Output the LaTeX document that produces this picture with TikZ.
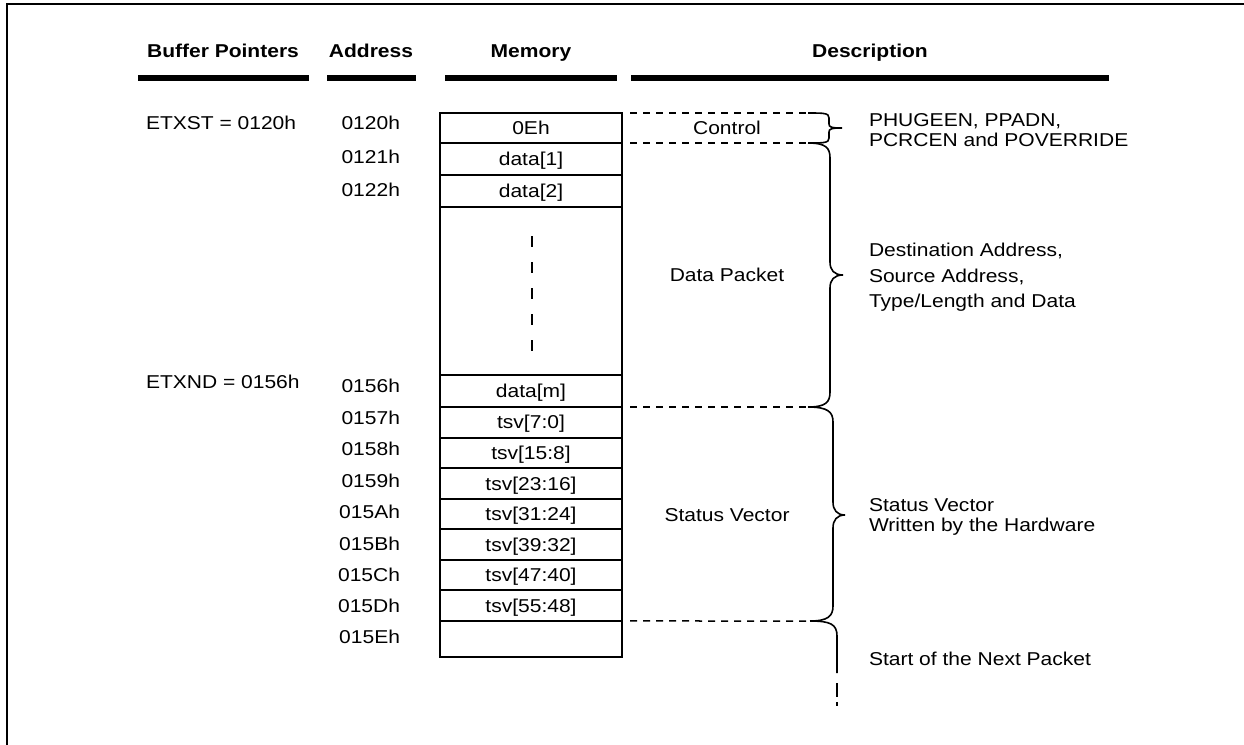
\documentclass[tikz,border=0pt]{standalone}
\usepackage{fontspec}
\setmainfont{Liberation Sans}[FakeStretch=1.13]
\begin{document}
\begin{tikzpicture}[x=1pt,y=-1pt,
  txt/.style={inner sep=0pt, outer sep=0pt, font=\fontsize{18.6}{20}\selectfont, text height=13.3pt, text depth=0pt},
  hdr/.style={txt, font=\fontsize{18.6}{20}\selectfont\bfseries},
  cell/.style={draw, line width=2pt, minimum width=182pt, inner sep=0pt, outer sep=0pt,
               font=\fontsize{18.6}{20}\selectfont, text height=13.3pt, text depth=0pt},
  bar/.style={line width=6pt},
  dline/.style={line width=1.5pt, dash pattern=on 7pt off 6pt},
  brc/.style={line width=1.6pt},
  addr/.style={txt, anchor=east},
  desc/.style={txt, anchor=west}
]
\useasboundingbox (0,0) rectangle (1244,744);
% frame
\draw[line width=2.5pt] (7,760) -- (7,4) -- (1260,4);

% headers
\node[hdr] (hbp) at (223,51) {Buffer Pointers};
\node[hdr] (had) at (371,51) {Address};
\node[hdr] (hme) at (531,51) {Memory};
\node[hdr] (hde) at (870,51) {Description};
\draw[bar] (138,78) -- (309,78);
\draw[bar] (327,78) -- (416,78);
\draw[bar] (445,78) -- (617,78);
\draw[bar] (631,78) -- (1109,78);

% memory cells
\node[cell, minimum height=30pt] (c0) at (531,128) {0Eh};
\node[cell, minimum height=32pt] (c1) at (531,159) {data[1]};
\node[cell, minimum height=32pt] (c2) at (531,191) {data[2]};
\node[cell, minimum height=168pt] (cg) at (531,291) {};
\node[cell, minimum height=32pt] (cm) at (531,391) {data[m]};
\node[cell, minimum height=30.57pt] (t0) at (531,422.3) {tsv[7:0]};
\node[cell, minimum height=30.57pt] (t1) at (531,452.9) {tsv[15:8]};
\node[cell, minimum height=30.57pt] (t2) at (531,483.4) {tsv[23:16]};
\node[cell, minimum height=30.57pt] (t3) at (531,514.0) {tsv[31:24]};
\node[cell, minimum height=30.57pt] (t4) at (531,544.6) {tsv[39:32]};
\node[cell, minimum height=30.57pt] (t5) at (531,575.1) {tsv[47:40]};
\node[cell, minimum height=30.57pt] (t6) at (531,605.7) {tsv[55:48]};
\node[cell, minimum height=36pt] (ce) at (531,639) {};
\draw[line width=2pt, dash pattern=on 11pt off 15pt] (532,236) -- (532,352);

% addresses
\node[addr] (a0) at (400,123) {0120h};
\node[addr] (a1) at (400,157) {0121h};
\node[addr] (a2) at (400,190) {0122h};
\node[addr] (a3) at (400,386) {0156h};
\node[addr] (a4) at (400,418) {0157h};
\node[addr] (a5) at (400,449) {0158h};
\node[addr] (a6) at (400,481) {0159h};
\node[addr] (a7) at (400,512) {015Ah};
\node[addr] (a8) at (400,544) {015Bh};
\node[addr] (a9) at (400,575) {015Ch};
\node[addr] (a10) at (400,606) {015Dh};
\node[addr] (a11) at (400,637) {015Eh};

% buffer pointers
\node[desc] (p0) at (146,123) {ETXST = 0120h};
\node[desc] (p1) at (146,382) {ETXND = 0156h};

% dashed separators
\coordinate (e0) at (808,113);
\coordinate (e1) at (808,143);
\coordinate (e2) at (808,407);
\coordinate (e3) at (810,621);
\draw[dline] ([xshift=8pt]c0.north east) -- (e0);
\draw[dline] ([xshift=8pt]c0.south east) -- (e1);
\draw[dline] ([xshift=8pt]cm.south east) -- (e2);
\draw[dline] ([xshift=8pt]t6.south east) -- (e3);

% middle labels
\node[txt] (lc) at (727,128) {Control};
\node[txt] (ld) at (727,275) {Data Packet};
\node[txt] (ls) at (727,515) {Status Vector};

% braces
\draw[brc] (e0) .. controls (824,113) and (829,113) .. (829,118) -- (829,124)
  .. controls (829,127) and (831,128) .. (842,128)
  .. controls (831,128) and (829,129) .. (829,132) -- (829,138)
  .. controls (829,143) and (824,143) .. (e1);
\draw[brc] (e1) .. controls (826,143) and (830,148) .. (830,158) -- (830,262)
  .. controls (830,270) and (834,275) .. (843,275)
  .. controls (834,275) and (830,280) .. (830,288) -- (830,392)
  .. controls (830,402) and (826,407) .. (e2);
\draw[brc] (e2) .. controls (828,407) and (833,412) .. (833,422) -- (833,502)
  .. controls (833,510) and (837,515) .. (845,515)
  .. controls (837,515) and (833,520) .. (833,528) -- (833,606)
  .. controls (833,616) and (828,621) .. (e3);
\draw[brc] (e3) .. controls (830,621) and (837,624) .. (837,636) -- (837,673);
\draw[brc] (837,683) -- (837,697);
\draw[brc] (837,702) -- (837,706);

% descriptions
\node[desc] (d0) at (869,120) {PHUGEEN, PPADN,};
\node[desc] (d1) at (869,140) {PCRCEN and POVERRIDE};
\node[desc] (d2) at (869,250) {Destination Address,};
\node[desc] (d3) at (869,276) {Source Address,};
\node[desc] (d4) at (869,301) {Type/Length and Data};
\node[desc] (d5) at (869,505) {Status Vector};
\node[desc] (d6) at (869,525) {Written by the Hardware};
\node[desc] (d7) at (869,659) {Start of the Next Packet};
\end{tikzpicture}
\end{document}
